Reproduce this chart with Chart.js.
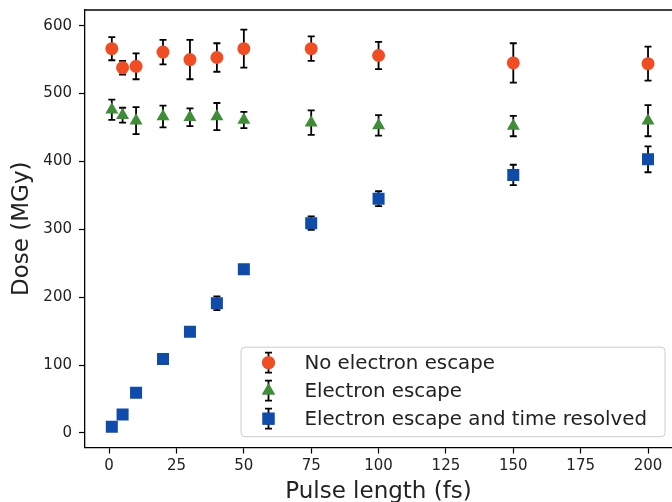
<!DOCTYPE html>
<html><head><meta charset="utf-8">
<script src="https://cdn.jsdelivr.net/npm/chart.js@4.4.1/dist/chart.umd.min.js"></script>
<style>html,body{margin:0;padding:0;background:#fff;overflow:hidden}#wrap{width:672px;height:502px;position:relative}</style>
</head><body><div id="wrap"><canvas id="c"></canvas></div>
<script>
const pulseLengths = [1, 5, 10, 20, 30, 40, 50, 75, 100, 150, 200];
const noEscape = [566, 538, 540, 561, 550, 553, 566, 566, 556, 545, 544];
const noEscapeErr = [17, 10, 19, 18, 29, 21, 28, 18, 20, 29, 25];
const escape = [476, 468, 460, 466, 465, 466, 461, 457, 453, 452, 460];
const escapeErr = [15, 11, 20, 16, 13, 20, 12, 18, 15, 15, 23];
const timeResolved = [9, 27, 59, 109, 149, 191, 241, 309, 345, 380, 403];
const timeResolvedErr = [2, 2, 3, 3, 3, 10, 5, 10, 11, 15, 19];
const xTicks = [0, 25, 50, 75, 100, 125, 150, 175, 200];
const yTicks = [0, 100, 200, 300, 400, 500, 600];
const seriesLabels = ['No electron escape', 'Electron escape', 'Electron escape and time resolved'];
const xTitle = 'Pulse length (fs)';
const yTitle = 'Dose (MGy)';

const colors = ['#f24c22', '#3f8e37', '#0e4bab'];
const styles = ['circle', 'triangle', 'rect'];
const radii = [6.5, 7.5, 8.5];
const FONT = "'DejaVu Sans', sans-serif";
Chart.defaults.font.family = FONT;

function pts(ys) { return pulseLengths.map((x, i) => ({ x: x, y: ys[i] })); }
const values = [noEscape, escape, timeResolved];
const errs = [noEscapeErr, escapeErr, timeResolvedErr];

const datasets = values.map((v, k) => ({
  label: seriesLabels[k],
  data: pts(v),
  errors: errs[k],
  showLine: false,
  pointStyle: styles[k],
  pointRadius: radii[k],
  pointHoverRadius: radii[k],
  backgroundColor: colors[k],
  borderColor: colors[k],
  borderWidth: 0
}));

const errorBarPlugin = {
  id: 'errbars',
  beforeDatasetDraw(chart, args) {
    const ds = chart.data.datasets[args.index];
    const ys = chart.scales.y;
    const ctx = chart.ctx;
    const a = chart.chartArea;
    ctx.save();
    ctx.beginPath(); ctx.rect(a.left, a.top, a.right - a.left, a.bottom - a.top); ctx.clip();
    ctx.strokeStyle = '#000'; ctx.lineWidth = 1.8;
    args.meta.data.forEach((pt, i) => {
      const v = ds.data[i].y, e = ds.errors[i];
      const x = pt.x;
      const yT = ys.getPixelForValue(v + e), yB = ys.getPixelForValue(v - e);
      ctx.beginPath();
      ctx.moveTo(x, yT); ctx.lineTo(x, yB);
      ctx.moveTo(x - 3.5, yT); ctx.lineTo(x + 3.5, yT);
      ctx.moveTo(x - 3.5, yB); ctx.lineTo(x + 3.5, yB);
      ctx.stroke();
    });
    ctx.restore();
  }
};

const framePlugin = {
  id: 'frame',
  afterDraw(chart) {
    const ctx = chart.ctx, a = chart.chartArea;
    ctx.save();
    ctx.strokeStyle = '#000'; ctx.lineWidth = 1.3;
    ctx.beginPath(); ctx.moveTo(a.left, a.top); ctx.lineTo(a.right, a.top); ctx.stroke();
    ctx.restore();
  }
};

const legendPlugin = {
  id: 'customLegend',
  afterDraw(chart) {
    const ctx = chart.ctx, a = chart.chartArea;
    const fs = 19.8;
    ctx.save();
    ctx.font = fs + 'px ' + FONT;
    const tw = Math.max(...chart.data.datasets.map(d => ctx.measureText(d.label).width));
    const w = 63.4 + tw + 18;
    const h = 89.5;
    const right = a.right - 7;
    const bottom = a.bottom - 10.8;
    const left = right - w, top = bottom - h;
    ctx.beginPath();
    ctx.roundRect(left, top, w, h, 4);
    ctx.fillStyle = 'rgba(255,255,255,0.85)';
    ctx.fill();
    ctx.strokeStyle = '#cccccc'; ctx.lineWidth = 1;
    ctx.stroke();
    chart.data.datasets.forEach((d, k) => {
      const cy = top + 15.5 + k * 28;
      const mx = left + 27.5;
      ctx.strokeStyle = '#000'; ctx.lineWidth = 1.8;
      ctx.beginPath();
      ctx.moveTo(mx, cy - 10); ctx.lineTo(mx, cy + 10);
      ctx.moveTo(mx - 3.5, cy - 10); ctx.lineTo(mx + 3.5, cy - 10);
      ctx.moveTo(mx - 3.5, cy + 10); ctx.lineTo(mx + 3.5, cy + 10);
      ctx.stroke();
      ctx.fillStyle = d.backgroundColor;
      Chart.helpers.drawPoint(ctx, { pointStyle: d.pointStyle, radius: d.pointRadius, rotation: 0, borderWidth: 0 }, mx, cy);
      ctx.fill();
      ctx.fillStyle = '#222';
      ctx.textBaseline = 'middle';
      ctx.textAlign = 'left';
      ctx.fillText(d.label, left + 63.4, cy + 1);
    });
    ctx.restore();
  }
};

new Chart(document.getElementById('c'), {
  type: 'scatter',
  data: { datasets: datasets },
  plugins: [errorBarPlugin, framePlugin, legendPlugin],
  options: {
    responsive: true,
    maintainAspectRatio: false,
    animation: false,
    devicePixelRatio: 1,
    layout: { autoPadding: false, padding: { top: 10, right: 0, left: 0, bottom: 0 } },
    plugins: { legend: { display: false }, tooltip: { enabled: false } },
    scales: {
      x: {
        type: 'linear', min: -8.95, max: 208.9,
        afterBuildTicks: s => { s.ticks = xTicks.map(v => ({ value: v })); },
        afterFit: s => { s.height = 54.5; s.paddingLeft = 0; s.paddingRight = 0; },
        grid: { drawOnChartArea: false, drawTicks: true, tickLength: 6, tickColor: '#000', tickWidth: 1.2 },
        border: { display: true, color: '#000', width: 1.3 },
        ticks: { font: { size: 15 }, color: '#222', padding: 4, maxRotation: 0, autoSkip: false },
        title: { display: true, text: xTitle, font: { size: 23, lineHeight: 0.9 }, color: '#222', padding: { top: 0, bottom: 0 } }
      },
      y: {
        type: 'linear', min: -21.5, max: 623,
        afterBuildTicks: s => { s.ticks = yTicks.map(v => ({ value: v })); },
        afterFit: s => { s.width = 85; s.paddingTop = 0; s.paddingBottom = 0; },
        grid: { drawOnChartArea: false, drawTicks: true, tickLength: 6, tickColor: '#000', tickWidth: 1.2 },
        border: { display: true, color: '#000', width: 1.3 },
        ticks: { font: { size: 15 }, color: '#222', padding: 7, autoSkip: false },
        title: { display: true, text: yTitle, font: { size: 23 }, color: '#222', padding: { top: 8, bottom: 0 } }
      }
    }
  }
});
</script></body></html>
